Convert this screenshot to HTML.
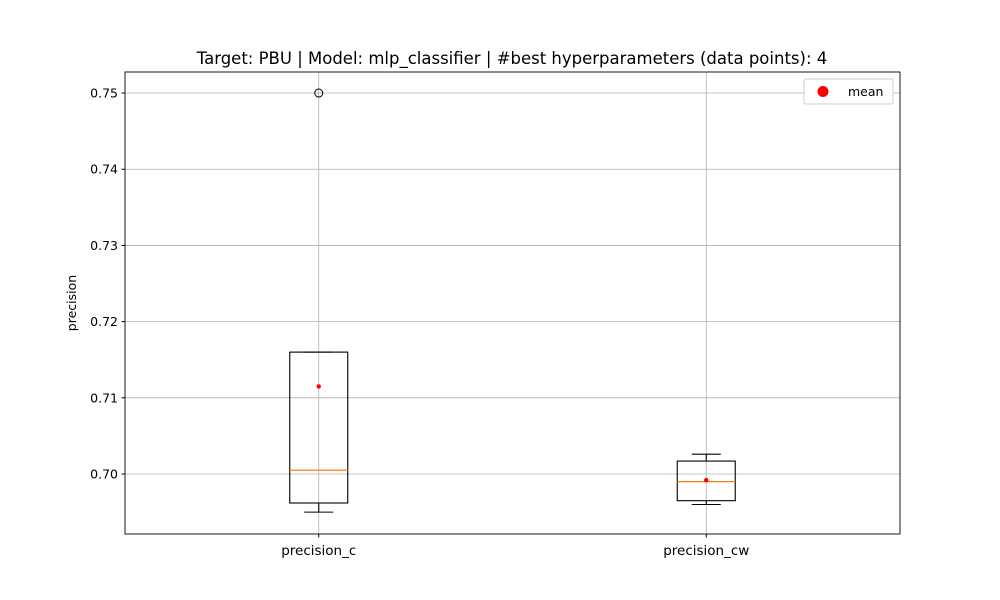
<!DOCTYPE html>
<html><head><meta charset="utf-8"><style>
body{margin:0;background:#fff;}
svg{display:block;font-family:"DejaVu Sans","Liberation Sans",sans-serif;}
</style></head><body>
<svg id="chart" width="1000" height="600">
<text x="512" y="64" font-size="16.5" text-anchor="middle">Target: PBU | Model: mlp_classifier | #best hyperparameters (data points): 4</text>
<text transform="translate(76,303) rotate(-90)" font-size="12.5" text-anchor="middle">precision</text>
<g id="grid"></g><g id="marks"></g><g id="ticks"></g>
<rect x="125" y="72" width="775" height="462" fill="none" stroke="#000" stroke-width="0.9"/>
<g>
<rect x="804" y="79" width="89" height="25" rx="2" fill="#fff" stroke="#ccc"/>
<circle cx="823" cy="91.5" r="5.5" fill="red"/>
<text x="848" y="96" font-size="12.5">mean</text>
</g>
</svg>
<script>
const categories=["precision_c","precision_cw"];
const whiskerLow=[0.695,0.696];
const q1=[0.6962,0.6965];
const medians=[0.7005,0.699];
const q3=[0.716,0.7017];
const whiskerHigh=[0.716,0.7026];
const means=[0.7115,0.6992];
const outliers=[[0.75],[]];
const yTicks=[0.70,0.71,0.72,0.73,0.74,0.75];
const yMin=0.69213,yMax=0.75276;
const L=125,R=900,T=72,B=534;
const NS="http://www.w3.org/2000/svg";
function y(v){return B-(v-yMin)/(yMax-yMin)*(B-T);}
function x(i){return L+(R-L)*(i+0.5)/categories.length;}
function mk(tag,at,parent){const e=document.createElementNS(NS,tag);for(const k in at)e.setAttribute(k,at[k]);document.getElementById(parent).appendChild(e);return e;}
yTicks.forEach(t=>{
 const g=mk('line',{x1:L,x2:R,y1:y(t),y2:y(t),stroke:'#b0b0b0','stroke-width':0.8},'grid');
 
 
 mk('line',{x1:L-3.5,x2:L,y1:y(t),y2:y(t),stroke:'#000'},'ticks');
 const tx=mk('text',{x:L-7,y:y(t)+4.5,'font-size':12.5,'text-anchor':'end'},'ticks');
 tx.textContent=t.toFixed(2);
 
 
});
categories.forEach((c,i)=>{
 const cx=x(i);
 const g=mk('line',{x1:cx,x2:cx,y1:T,y2:B,stroke:'#b0b0b0','stroke-width':0.8},'grid');
 
 
 mk('line',{x1:cx,x2:cx,y1:B,y2:B+3.5,stroke:'#000'},'ticks');
 const tx=mk('text',{x:cx,y:B+21,'font-size':13.5,'text-anchor':'middle'},'ticks');
 tx.textContent=c;
 
 
 const s={stroke:'#000','stroke-width':1.1,fill:'none'};
 mk('line',Object.assign({x1:cx,x2:cx,y1:y(q1[i]),y2:y(whiskerLow[i])},s),'marks');
 mk('line',Object.assign({x1:cx,x2:cx,y1:y(q3[i]),y2:y(whiskerHigh[i])},s),'marks');
 mk('line',Object.assign({x1:cx-14.5,x2:cx+14.5,y1:y(whiskerLow[i]),y2:y(whiskerLow[i])},s),'marks');
 mk('line',Object.assign({x1:cx-14.5,x2:cx+14.5,y1:y(whiskerHigh[i]),y2:y(whiskerHigh[i])},s),'marks');
 const bx=mk('rect',Object.assign({x:cx-29,width:58,y:y(q3[i]),height:y(q1[i])-y(q3[i])},s),'marks');
 
 
 const md=mk('line',{x1:cx-29,x2:cx+29,y1:y(medians[i]),y2:y(medians[i]),stroke:'#ff7f0e','stroke-width':1.2},'marks');
 
 
 outliers[i].forEach(o=>{
  const oc=mk('circle',{cx:cx,cy:y(o),r:4,fill:'none',stroke:'#000'},'marks');
  
  
 });
 const mc=mk('circle',{cx:cx,cy:y(means[i]),r:2.2,fill:'red'},'marks');
 
 
});
</script>
</body></html>
